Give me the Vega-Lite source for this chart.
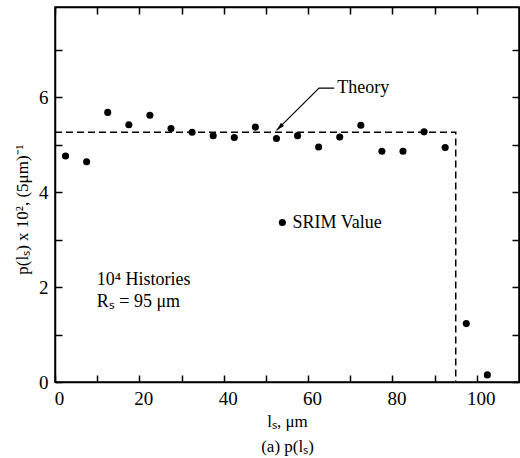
{
  "$schema": "https://vega.github.io/schema/vega-lite/v6.json",
  "width": 464,
  "height": 375,
  "autosize": "none",
  "padding": {"left": 55, "top": 7, "right": 1, "bottom": 76},
  "background": "white",
  "config": {
    "view": {"stroke": "black", "strokeWidth": 1.5},
    "font": "Liberation Serif",
    "axis": {
      "grid": false,
      "domainColor": "black",
      "domainWidth": 1.5,
      "tickColor": "black",
      "tickWidth": 1.5,
      "tickSize": -7,
      "labelColor": "black",
      "titleColor": "black",
      "labelFont": "Liberation Serif",
      "titleFont": "Liberation Serif",
      "labelFontSize": 19,
      "titleFontSize": 17,
      "titleFontWeight": "normal"
    }
  },
  "datasets": {
    "pts": [
      {"x": 2.5, "y": 4.76}, {"x": 7.5, "y": 4.64}, {"x": 12.5, "y": 5.68}, {"x": 17.5, "y": 5.42},
      {"x": 22.5, "y": 5.62}, {"x": 27.5, "y": 5.34}, {"x": 32.5, "y": 5.26}, {"x": 37.5, "y": 5.19},
      {"x": 42.5, "y": 5.15}, {"x": 47.5, "y": 5.37}, {"x": 52.5, "y": 5.13}, {"x": 57.5, "y": 5.19},
      {"x": 62.5, "y": 4.95}, {"x": 67.5, "y": 5.16}, {"x": 72.5, "y": 5.41}, {"x": 77.5, "y": 4.86},
      {"x": 82.5, "y": 4.86}, {"x": 87.5, "y": 5.27}, {"x": 92.5, "y": 4.94}, {"x": 97.5, "y": 1.23},
      {"x": 102.5, "y": 0.15}
    ],
    "theory": [
      {"x": 0, "y": 5.263, "o": 1}, {"x": 95, "y": 5.263, "o": 2}, {"x": 95, "y": 0, "o": 3}
    ],
    "leader": [
      {"x": 66.2, "y": 6.19, "o": 1}, {"x": 62.6, "y": 6.19, "o": 2}, {"x": 52.5, "y": 5.3, "o": 3}
    ],
    "arrow": [{"x": 52.5, "y": 5.3}],
    "legendDot": [{"x": 53.9, "y": 3.36}],
    "labels": [
      {"x": 66.9, "y": 6.19, "t": "Theory"},
      {"x": 56.3, "y": 3.36, "t": "SRIM Value"},
      {"x": 9.9, "y": 2.14, "t": "10⁴ Histories"},
      {"x": 9.9, "y": 1.68, "t": "Rₛ = 95 μm"}
    ]
  },
  "encoding": {
    "x": {"field": "x", "type": "quantitative", "scale": {"domain": [0, 110], "nice": false, "zero": false}, "axis": null},
    "y": {"field": "y", "type": "quantitative", "scale": {"domain": [0, 7.9], "nice": false, "zero": false}, "axis": null}
  },
  "layer": [
    {
      "data": {"name": "pts"},
      "mark": {"type": "circle", "size": 50, "color": "black", "opacity": 1},
      "encoding": {
        "x": {"field": "x", "type": "quantitative", "scale": {"domain": [0, 110], "nice": false, "zero": false},
          "axis": {"orient": "bottom", "values": [0,10,20,30,40,50,60,70,80,90,100],
            "labelExpr": "datum.value % 20 === 0 ? datum.label : ''",
            "labelPadding": 14, "labelFlush": false, "labelOffset": 4,
            "title": ["lₛ, μm", "(a) p(lₛ)"], "titleLineHeight": 25, "titleBaseline": "top", "titleY": 31}},
        "y": {"field": "y", "type": "quantitative", "scale": {"domain": [0, 7.9], "nice": false, "zero": false},
          "axis": {"orient": "left", "values": [0,1,2,3,4,5,6,7],
            "labelExpr": "datum.value % 2 === 0 ? datum.label : ''",
            "labelPadding": 14, "labelFlush": false,
            "title": "p(lₛ) x 10², (5μm)⁻¹", "titleX": -33, "titleY": 202, "titleAngle": 270, "titleBaseline": "middle", "titleAlign": "center"}}
      }
    },
    {
      "data": {"name": "theory"},
      "mark": {"type": "line", "color": "black", "strokeWidth": 1.5, "strokeDash": [7, 4]},
      "encoding": {
        "x": {"field": "x", "type": "quantitative", "scale": {"domain": [0, 110], "nice": false, "zero": false},
          "axis": {"orient": "top", "values": [0,10,20,30,40,50,60,70,80,90,100], "labels": false, "title": null}},
        "y": {"field": "y", "type": "quantitative", "scale": {"domain": [0, 7.9], "nice": false, "zero": false},
          "axis": {"orient": "right", "values": [0,1,2,3,4,5,6,7], "labels": false, "title": null}},
        "order": {"field": "o"}
      }
    },
    {
      "data": {"name": "leader"},
      "mark": {"type": "line", "color": "black", "strokeWidth": 1.2},
      "encoding": {"order": {"field": "o"}}
    },
    {
      "data": {"name": "arrow"},
      "mark": {"type": "point", "shape": "M0,0L-0.45,1.8L0.45,1.8Z", "size": 90, "filled": true, "color": "black", "opacity": 1, "angle": 225}
    },
    {
      "data": {"name": "legendDot"},
      "mark": {"type": "circle", "size": 50, "color": "black", "opacity": 1}
    },
    {
      "data": {"name": "labels"},
      "mark": {"type": "text", "align": "left", "baseline": "middle", "font": "Liberation Serif", "fontSize": 18, "color": "black"},
      "encoding": {"text": {"field": "t"}}
    }
  ],
  "resolve": {"axis": {"x": "independent", "y": "independent"}}
}
